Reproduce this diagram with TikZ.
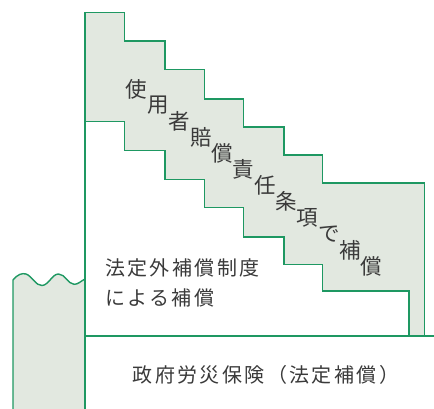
\documentclass[tikz,border=0pt]{standalone}
\usepackage{fontspec}
\newfontfamily\jpfont{Noto Sans CJK JP}
\newfontfamily\jpspaced[LetterSpace=12]{Noto Sans CJK JP}
\definecolor{lgreen}{HTML}{1E9862}
\definecolor{lfill}{HTML}{E2E8E0}
\definecolor{txt}{HTML}{3A3A3A}
\tikzset{
  edge/.style={draw=lgreen, line width=1.4pt, line join=miter},
  jp/.style={font=\jpfont\fontsize{21.5}{26}\selectfont, text=txt, inner sep=0pt},
  jpl/.style={font=\jpspaced\fontsize{20}{30}\selectfont, text=txt, inner sep=0pt},
}
\begin{document}
\begin{tikzpicture}[x=1pt,y=-1pt]
\useasboundingbox (0,0) rectangle (434,409);
% left small column with wavy top
\path[fill=lfill] (13,409) -- (13,280) .. controls (18,274) and (22,273) .. (26,274)
  .. controls (32,276) and (36,286) .. (42,285.5)
  .. controls (49,285) and (52,274) .. (58.5,274)
  .. controls (65,274) and (68,284) .. (74,284.3)
  .. controls (78,284.5) and (81,281) .. (85,279) -- (85,409) -- cycle;
\draw[edge] (13,409) -- (13,280) .. controls (18,274) and (22,273) .. (26,274)
  .. controls (32,276) and (36,286) .. (42,285.5)
  .. controls (49,285) and (52,274) .. (58.5,274)
  .. controls (65,274) and (68,284) .. (74,284.3)
  .. controls (78,284.5) and (81,281) .. (85,279);
% stair band
\draw[edge, fill=lfill] (85,12.7) -- (124.5,12.7) -- (124.5,41) -- (165,41) -- (165,69.3)
  -- (204.5,69.3) -- (204.5,99) -- (243.5,99) -- (243.5,127) -- (284,127) -- (284,155)
  -- (322.7,155) -- (322.7,183) -- (424.3,183) -- (424.3,336) -- (409,336) -- (409,291)
  -- (322.7,291) -- (322.7,264.3) -- (284,264.3) -- (284,237) -- (243.5,237) -- (243.5,207.7)
  -- (204.5,207.7) -- (204.5,179.3) -- (165,179.3) -- (165,150.3) -- (124.5,150.3)
  -- (124.5,121.7) -- (85,121.7) -- cycle;
% main vertical and base line
\draw[edge] (85,12.7) -- (85,409);
\draw[edge] (85,336) -- (434,336);
% diagonal text
\foreach \c [count=\i from 0] in {使,用,者,賠,償,責,任,条,項,で,補,償}{
  \node[jp] (d\i) at ({136.7+21.36*\i},{89.3+16.06*\i}) {\c};
}
\node[jpl, anchor=west, align=left] (ext) at (105,282.5) {法定外補償制度\\による補償};
\node[jpl] (gov) at (266,375) {政府労災保険（法定補償）};
\end{tikzpicture}
\end{document}
